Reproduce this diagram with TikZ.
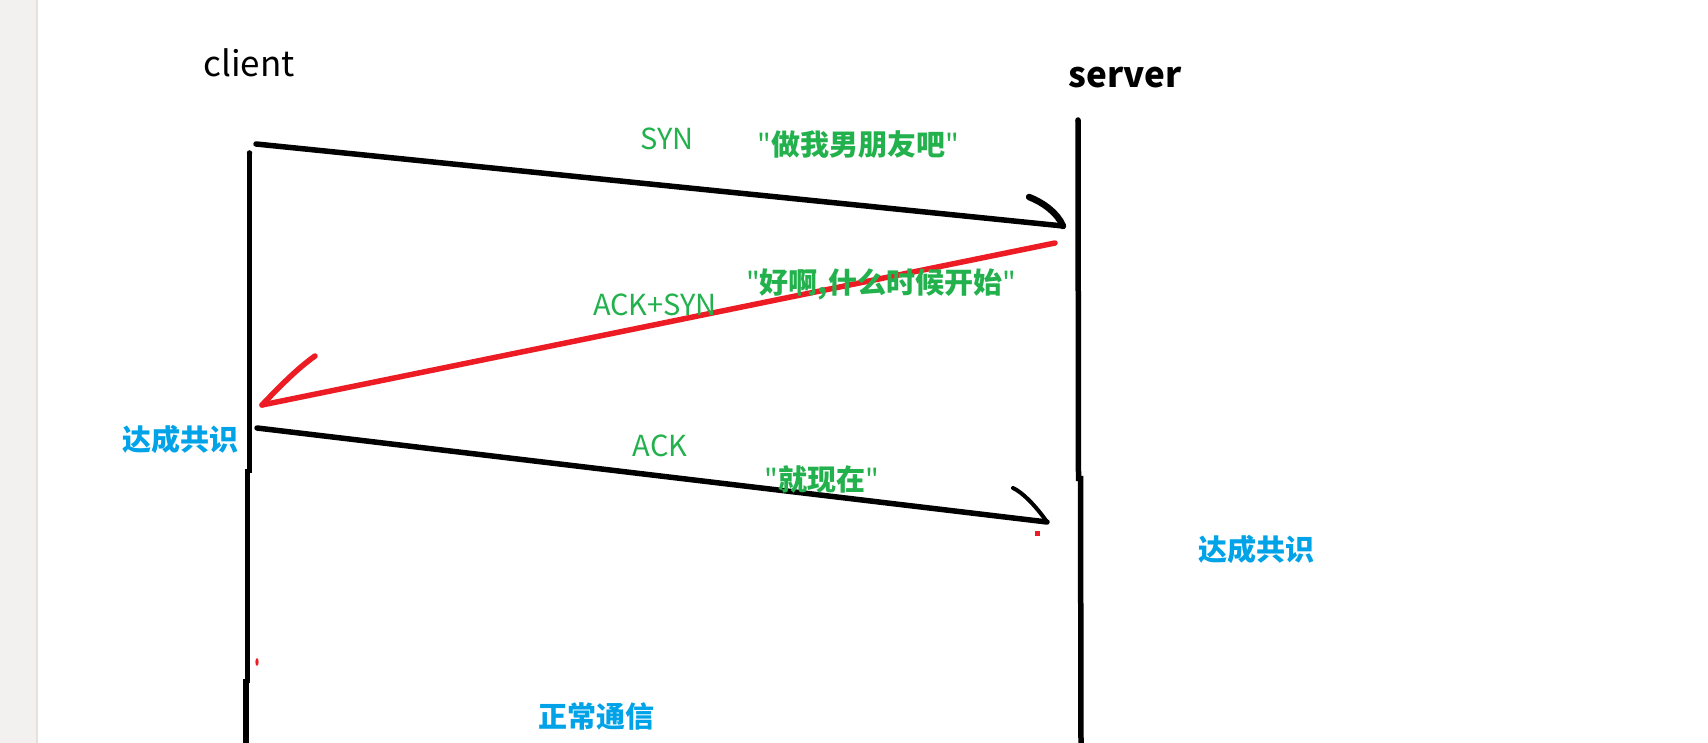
\documentclass[tikz,border=0pt]{standalone}
\usepackage{fontspec}
\newfontfamily\nf{Noto Sans CJK SC}
\newcommand{\qm}{{\mdseries"}}
\definecolor{pgreen}{HTML}{22B14C}
\definecolor{pblue}{HTML}{00A2E8}
\definecolor{pred}{HTML}{ED1C24}
\definecolor{strip}{HTML}{F3F1EF}
\definecolor{stripedge}{HTML}{E4E1DE}
\begin{document}
\begin{tikzpicture}[x=1pt,y=-1pt,
  pen/.style={line width=5.5pt,line cap=round,line join=round},
  thinpen/.style={line width=4pt,line cap=round,line join=round},
  title/.style={inner sep=0pt,font=\nf\fontsize{35}{40}\selectfont},
  msg/.style={inner sep=0pt,text=pgreen,font=\nf\fontsize{29}{34}\selectfont},
  quote/.style={inner sep=0pt,text=pgreen,font=\nf\fontsize{29}{34}\selectfont\bfseries},
  state/.style={inner sep=0pt,text=pblue,font=\nf\fontsize{29}{34}\selectfont\bfseries}]
\useasboundingbox (0,0) rectangle (1708,743);
\fill[white] (0,0) rectangle (1708,743);
\fill[strip] (0,0) rectangle (37,743);
\draw[stripedge,line width=1.5pt] (37,0) -- (37,743);

% titles
\node[title] (client) at (249,63) {client};
\node[title,font=\nf\fontsize{35}{40}\selectfont\bfseries] (server) at (1125,78) {server};

% life lines
\coordinate (c0) at (249.5,153);
\coordinate (c1) at (249.5,473);
\coordinate (c2) at (247.5,469);
\coordinate (c3) at (247.5,683);
\coordinate (c4) at (246,679);
\coordinate (c5) at (246,745);
\draw[pen,line cap=butt] (c0) -- (c1) (c2) -- (c3) (c4) -- (c5);
\fill (c0) circle (2.75pt);
\coordinate (s0) at (1078,120);
\coordinate (s1) at (1078.5,481);
\coordinate (s2) at (1080.5,476);
\coordinate (s3) at (1081,745);
\draw[pen,line cap=butt] (s0) -- (s1) (s2) -- (s3);
\fill (s0) circle (2.75pt);

% SYN
\coordinate (syn0) at (256,144);
\coordinate (syn1) at (1063,226);
\coordinate (synh) at (1029,197);
\draw[pen] (syn0) -- (syn1);
\draw[pen,line width=6.5pt] (synh) .. controls (1042,202) and (1057,212) .. (syn1);

% ACK+SYN (red)
\coordinate (as0) at (1055,243);
\coordinate (as1) at (262,405);
\coordinate (ash) at (315,356);
\draw[pen,pred] (as0) -- (as1);
\draw[pen,pred] (as1) .. controls (280,386) and (298,368) .. (ash);

% ACK
\coordinate (ack0) at (257,428);
\coordinate (ack1) at (1047,522);
\coordinate (ackh) at (1013,488);
\draw[pen] (ack0) -- (ack1);
\draw[thinpen] (ackh) .. controls (1022,492) and (1036,506) .. (ack1);

% stray red marks
\fill[pred] (1034.5,530.5) rectangle (1039.5,535.5);
\fill[pred] (257,662) ellipse (1.6pt and 4pt);

% labels
\node[msg] (syn) at (667,139) {SYN};
\node[quote] (q1) at (858,145) {\qm 做我男朋友吧\qm};
\node[quote] (q2) at (881,284) {\qm 好啊,什么时候开始\qm};
\node[msg] (acksyn) at (655,305) {ACK+SYN};
\node[msg] (ack) at (660,446) {ACK};
\node[quote] (q3) at (822,480) {\qm 就现在\qm};
\node[state] (agreeL) at (180,439) {达成共识};
\node[state] (agreeR) at (1256,549) {达成共识};
\node[state] (normal) at (596,716) {正常通信};
\end{tikzpicture}
\end{document}
